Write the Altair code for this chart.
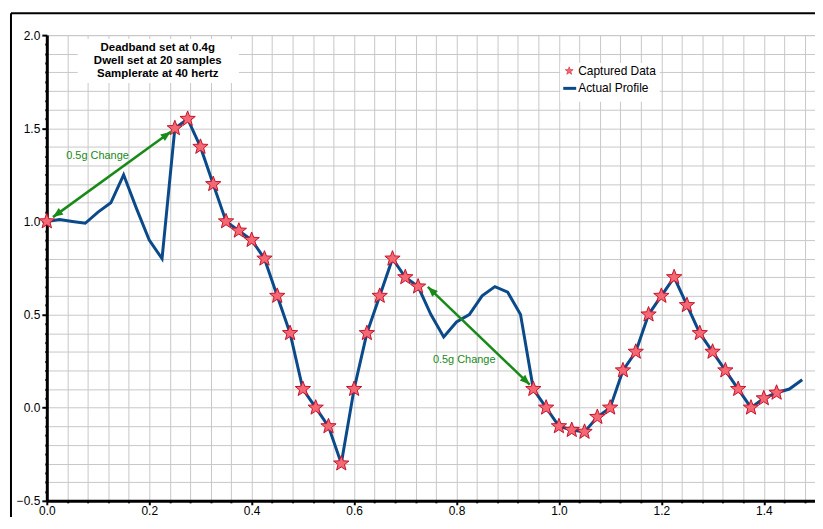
import math
import altair as alt
import pandas as pd

# ---------------- data ----------------
profile_x = [0.0, 0.025, 0.05, 0.075, 0.1, 0.125, 0.15, 0.175, 0.2, 0.225,
             0.25, 0.275, 0.3, 0.325, 0.35, 0.375, 0.4, 0.425, 0.45, 0.475,
             0.5, 0.525, 0.55, 0.575, 0.6, 0.625, 0.65, 0.675, 0.7, 0.725,
             0.75, 0.775, 0.8, 0.825, 0.85, 0.875, 0.9, 0.925, 0.95, 0.975,
             1.0, 1.025, 1.05, 1.075, 1.1, 1.125, 1.15, 1.175, 1.2, 1.225,
             1.25, 1.275, 1.3, 1.325, 1.35, 1.375, 1.4, 1.425, 1.45, 1.475]
profile_y = [1.0, 1.01, 1.0, 0.99, 1.05, 1.1, 1.25, 1.07, 0.9, 0.8,
             1.5, 1.55, 1.4, 1.2, 1.0, 0.95, 0.9, 0.8, 0.6, 0.4,
             0.1, 0.0, -0.1, -0.3, 0.1, 0.4, 0.6, 0.8, 0.7, 0.65,
             0.5, 0.38, 0.46, 0.5, 0.6, 0.65, 0.62, 0.5, 0.1, 0.0,
             -0.1, -0.12, -0.13, -0.05, 0.0, 0.2, 0.3, 0.5, 0.6, 0.7,
             0.55, 0.4, 0.3, 0.2, 0.1, 0.0, 0.05, 0.08, 0.1, 0.15]

captured_x = [0.0,
              0.25, 0.275, 0.3, 0.325, 0.35, 0.375, 0.4, 0.425, 0.45, 0.475,
              0.5, 0.525, 0.55, 0.575, 0.6, 0.625, 0.65, 0.675, 0.7, 0.725,
              0.95, 0.975, 1.0, 1.025, 1.05, 1.075, 1.1, 1.125, 1.15, 1.175,
              1.2, 1.225, 1.25, 1.275, 1.3, 1.325, 1.35, 1.375, 1.4, 1.425]
captured_y = [1.0,
              1.5, 1.55, 1.4, 1.2, 1.0, 0.95, 0.9, 0.8, 0.6, 0.4,
              0.1, 0.0, -0.1, -0.3, 0.1, 0.4, 0.6, 0.8, 0.7, 0.65,
              0.1, 0.0, -0.1, -0.12, -0.13, -0.05, 0.0, 0.2, 0.3, 0.5,
              0.6, 0.7, 0.55, 0.4, 0.3, 0.2, 0.1, 0.0, 0.05, 0.08]

# annotation arrows (start x, start y, end x, end y) and their labels
arrow_x1 = [0.012, 0.744]
arrow_y1 = [1.023, 0.648]
arrow_x2 = [0.242, 0.943]
arrow_y2 = [1.481, 0.124]
arrow_label_x = [0.099, 0.815]
arrow_label_y = [1.353, 0.256]
arrow_text = ["0.5g Change", "0.5g Change"]

info_text = "Deadband set at 0.4g\nDwell set at 20 samples\nSamplerate at 40 hertz"
legend_labels = ["Captured Data", "Actual Profile"]

x_tick_labels = [0.0, 0.2, 0.4, 0.6, 0.8, 1.0, 1.2, 1.4]
y_tick_labels = [-0.5, 0.0, 0.5, 1.0, 1.5, 2.0]
x_minor_step = 0.04
y_minor_step = 0.05

# ---------------- layout / style ----------------
W, H = 772, 468
XDOM = [0, 1.5]
YDOM = [-0.5, 2.0]
FONT = "Liberation Sans"
BLUE = "#0b4a8a"
STAR_FILL = "#f36873"
STAR_STROKE = "#c4122a"
GREEN = "#188a18"
GRID = "#c8c8c8"

STAR = ("M0,-1 L0.25,-0.34 L0.951,-0.309 L0.4,0.13 L0.588,0.809 "
        "L0,0.42 L-0.588,0.809 L-0.4,0.13 L-0.951,-0.309 L-0.25,-0.34 Z")
HEAD = "M0,0 L-0.5,1.25 L0.5,1.25 Z"

x_vals = [round(i * x_minor_step, 4) for i in range(int(1.5 / x_minor_step) + 1)]
y_vals = [round(-0.5 + i * y_minor_step, 4) for i in range(int(2.5 / y_minor_step) + 1)]

mult = lambda k: f"abs(datum.value*{k} - round(datum.value*{k})) < 0.001"

x_axis = alt.Axis(
    values=x_vals, title=None, format=".1f",
    labelExpr=f"{mult(5)} ? format(datum.value, '.1f') : ''",
    labelFont=FONT, labelFontSize=12, labelColor="black", labelPadding=0.5,
    labelFlush=False, labelOverlap=False,
    grid=True, gridColor=GRID, gridWidth=1,
    domainColor="black", domainWidth=3,
    tickColor="black", tickWidth=2,
    tickSize={"condition": {"test": mult(5), "value": 4}, "value": 2},
)
y_axis = alt.Axis(
    values=y_vals, title=None, format=".1f",
    labelExpr=f"{mult(2)} ? format(datum.value, '.1f') : ''",
    labelFont=FONT, labelFontSize=12, labelColor="black", labelPadding=2,
    labelFlush=False, labelOverlap=False,
    grid=True, gridColor=GRID, gridWidth=1,
    gridOpacity={"condition": {"test": mult(10), "value": 1}, "value": 0},
    domainColor="black", domainWidth=3,
    tickColor="black", tickWidth=2,
    tickSize={"condition": {"test": mult(2), "value": 5}, "value": 2},
)
xs = alt.Scale(domain=XDOM, nice=False, zero=False)
ys = alt.Scale(domain=YDOM, nice=False, zero=False)


def X(f="x"):
    return alt.X(f"{f}:Q", scale=xs, axis=x_axis)


def Y(f="y"):
    return alt.Y(f"{f}:Q", scale=ys, axis=y_axis)


profile = pd.DataFrame({"x": profile_x, "y": profile_y})
captured = pd.DataFrame({"x": captured_x, "y": captured_y})
arrows = pd.DataFrame({"x": arrow_x1, "y": arrow_y1, "x2": arrow_x2, "y2": arrow_y2})

sx = W / (XDOM[1] - XDOM[0])
sy = H / (YDOM[1] - YDOM[0])
heads = []
for a, b, c, d in zip(arrow_x1, arrow_y1, arrow_x2, arrow_y2):
    dx, dy = (c - a) * sx, -(d - b) * sy
    ang = math.degrees(math.atan2(dx, -dy)) % 360
    heads.append({"x": c, "y": d, "angle": ang})
    heads.append({"x": a, "y": b, "angle": (ang + 180) % 360})
heads = pd.DataFrame(heads)
labels = pd.DataFrame({"x": arrow_label_x, "y": arrow_label_y, "t": arrow_text})

base = alt.Chart(profile)
one = pd.DataFrame({"k": [0]})

# white boxes behind the info text and legend
boxes = alt.Chart(one).mark_rect(color="white").encode(
    x=alt.value(31), x2=alt.value(193), y=alt.value(4), y2=alt.value(48))
legend_box = alt.Chart(one).mark_rect(color="white").encode(
    x=alt.value(516), x2=alt.value(616), y=alt.value(28), y2=alt.value(67))

line = base.mark_line(color=BLUE, strokeWidth=3).encode(x=X(), y=Y())
stars = alt.Chart(captured).mark_point(
    shape=STAR, filled=True, fill=STAR_FILL, stroke=STAR_STROKE,
    strokeWidth=1, size=260, opacity=1
).encode(x=X(), y=Y())

arrow_lines = alt.Chart(arrows).mark_rule(color=GREEN, strokeWidth=2.5).encode(
    x=X(), y=Y(), x2="x2:Q", y2="y2:Q")
arrow_heads = alt.Chart(heads).mark_point(
    shape=HEAD, filled=True, color=GREEN, opacity=1, size=260
).encode(x=X(), y=Y(), angle=alt.Angle("angle:Q", scale=None))
arrow_labels = alt.Chart(labels).mark_text(
    color=GREEN, font=FONT, fontSize=11, align="center", baseline="middle"
).encode(x=X(), y=Y(), text="t:N")

info = alt.Chart(pd.DataFrame({"t": [info_text]})).mark_text(
    font=FONT, fontSize=11.5, fontWeight="bold", color="black",
    align="center", baseline="middle", lineBreak="\n", lineHeight=13
).encode(x=alt.value(111.5), y=alt.value(13), text="t:N")

leg_star = alt.Chart(one).mark_point(
    shape=STAR, filled=True, fill=STAR_FILL, stroke=STAR_STROKE, strokeWidth=0.5,
    size=70, opacity=1).encode(x=alt.value(525), y=alt.value(36))
leg_t1 = alt.Chart(pd.DataFrame({"t": [legend_labels[0]]})).mark_text(
    font=FONT, fontSize=12, color="black", align="left", baseline="middle"
).encode(x=alt.value(534), y=alt.value(36.5), text="t:N")
leg_line = alt.Chart(one).mark_rule(color=BLUE, strokeWidth=3).encode(
    x=alt.value(519), x2=alt.value(532), y=alt.value(53.5))
leg_t2 = alt.Chart(pd.DataFrame({"t": [legend_labels[1]]})).mark_text(
    font=FONT, fontSize=12, color="black", align="left", baseline="middle"
).encode(x=alt.value(534), y=alt.value(53.5), text="t:N")

frame_top = alt.Chart(one).mark_rule(color="black", strokeWidth=2).encode(
    x=alt.value(-36), x2=alt.value(W + 6), y=alt.value(-22))
frame_left = alt.Chart(one).mark_rule(color="black", strokeWidth=2).encode(
    x=alt.value(-36), y=alt.value(-22), y2=alt.value(H + 24))

chart = alt.layer(
    boxes, legend_box, line, stars, arrow_lines, arrow_heads, arrow_labels,
    info, leg_star, leg_t1, leg_line, leg_t2, frame_top, frame_left
).properties(
    width=W, height=H,
    autosize=alt.AutoSizeParams(type="none"),
    padding={"left": 39, "top": 26, "right": 0, "bottom": 15},
    background="white",
).configure_view(stroke=GRID, strokeWidth=1)

chart.save("out.html", embed_options={"renderer": "svg", "actions": False})
